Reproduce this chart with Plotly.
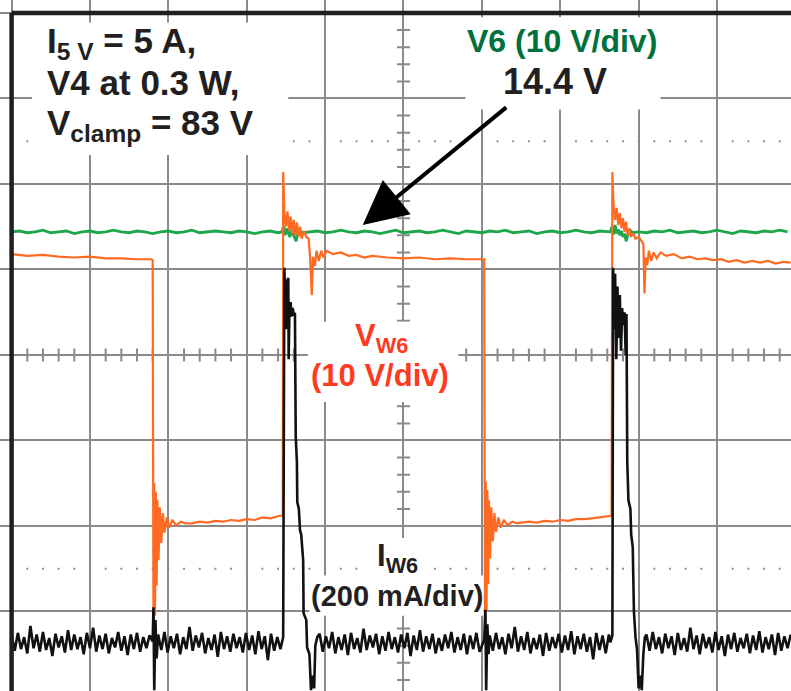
import numpy as np
import plotly.graph_objects as go

W, H = 791, 691

# ---------------- data (time in screen divisions, amplitude in divisions about the centre line) ----
DT_BASE = 0.04   # sample spacing used for the noisy I_W6 baseline stretches
DT_V6 = 0.10     # sample spacing used for the V6 trace

# V6 (green) - 14.4 V output rail
v6_a_t0 = 0.0
v6_a = [1.44, 1.45, 1.43, 1.44, 1.46, 1.43, 1.44, 1.45, 1.42, 1.44, 1.45, 1.43, 1.44, 1.46, 1.44, 1.43, 1.45, 1.44,
        1.42, 1.44, 1.45, 1.43, 1.44, 1.46, 1.43, 1.44, 1.45, 1.44, 1.43, 1.45, 1.44, 1.42, 1.44, 1.45, 1.43]
v6_b_t = [3.45, 3.47, 3.49, 3.51, 3.53, 3.55, 3.57, 3.59, 3.61, 3.63, 3.65, 3.68, 3.72]
v6_b = [1.44, 1.51, 1.40, 1.48, 1.43, 1.38, 1.46, 1.41, 1.36, 1.33, 1.42, 1.45, 1.43]
v6_c_t0 = 3.8
v6_c = [1.44, 1.45, 1.43, 1.44, 1.46, 1.44, 1.43, 1.45, 1.44, 1.42, 1.44, 1.46, 1.43, 1.44, 1.45, 1.43, 1.44, 1.46,
        1.44, 1.42, 1.45, 1.44, 1.43, 1.45, 1.44, 1.46, 1.43, 1.44, 1.45, 1.42, 1.44, 1.45, 1.43, 1.44, 1.46, 1.44,
        1.43, 1.45, 1.44]
v6_d_t = [7.64, 7.66, 7.68, 7.70, 7.72, 7.74, 7.76, 7.78, 7.80, 7.82, 7.84, 7.86, 7.89, 7.93]
v6_d = [1.44, 1.50, 1.41, 1.52, 1.42, 1.47, 1.40, 1.45, 1.38, 1.42, 1.33, 1.40, 1.46, 1.43]
v6_e_t0 = 8.0
v6_e = [1.44, 1.43, 1.45, 1.44, 1.46, 1.43, 1.44, 1.45, 1.43, 1.44, 1.46, 1.44, 1.42, 1.45, 1.44, 1.43, 1.45, 1.44,
        1.46, 1.44]

# V_W6 (orange) - winding voltage
vw6_high1_t = [0.00, 0.20, 0.40, 0.60, 0.80, 1.00, 1.20, 1.40, 1.60, 1.78]
vw6_high1 = [1.18, 1.16, 1.17, 1.15, 1.14, 1.15, 1.13, 1.13, 1.12, 1.12]
vw6_fall1_t = [1.80, 1.81, 1.82, 1.83, 1.84, 1.85, 1.86, 1.875, 1.89, 1.91, 1.93, 1.95, 1.98, 2.01, 2.05, 2.10,
               2.16, 2.22]
vw6_fall1 = [1.11, -3.22, -1.50, -3.05, -1.60, -2.70, -1.70, -2.40, -1.78, -2.20, -1.85, -2.08, -1.90, -2.02,
             -1.93, -1.99, -1.95, -1.97]
vw6_low1_t = [2.30, 2.40, 2.50, 2.60, 2.70, 2.80, 2.90, 3.00, 3.10, 3.20, 3.30, 3.42, 3.46]
vw6_low1 = [-1.97, -1.95, -1.96, -1.94, -1.95, -1.93, -1.94, -1.92, -1.93, -1.90, -1.91, -1.88, -1.88]
vw6_rise1_t = [3.465, 3.48, 3.50, 3.52, 3.54, 3.56, 3.58, 3.60, 3.62, 3.64, 3.66, 3.68, 3.70, 3.73, 3.76, 3.79,
               3.81, 3.83, 3.845, 3.87, 3.89, 3.92, 3.95, 3.98, 4.02]
vw6_rise1 = [2.14, 1.66, 1.50, 1.68, 1.45, 1.62, 1.42, 1.58, 1.40, 1.55, 1.38, 1.50, 1.36, 1.45, 1.38, 1.36,
             1.12, 0.70, 1.15, 1.04, 1.22, 1.10, 1.22, 1.14, 1.22]
vw6_high2_t = [4.10, 4.20, 4.30, 4.40, 4.50, 4.60, 4.80, 5.00, 5.20, 5.40, 5.60, 5.80, 6.02]
vw6_high2 = [1.18, 1.20, 1.16, 1.17, 1.14, 1.16, 1.14, 1.13, 1.14, 1.12, 1.13, 1.12, 1.12]
vw6_fall2_t = [6.03, 6.04, 6.05, 6.06, 6.07, 6.08, 6.09, 6.105, 6.12, 6.14, 6.16, 6.18, 6.21, 6.24, 6.28, 6.33,
               6.39, 6.45]
vw6_fall2 = [1.12, -3.20, -1.48, -3.00, -1.58, -2.68, -1.70, -2.38, -1.78, -2.18, -1.85, -2.07, -1.90, -2.02,
             -1.93, -1.99, -1.95, -1.97]
vw6_low2_t = [6.50, 6.60, 6.70, 6.80, 6.90, 7.00, 7.10, 7.20, 7.30, 7.40, 7.50, 7.62, 7.655]
vw6_low2 = [-1.96, -1.95, -1.96, -1.94, -1.95, -1.93, -1.94, -1.92, -1.92, -1.91, -1.90, -1.89, -1.88]
vw6_rise2_t = [7.665, 7.68, 7.70, 7.72, 7.74, 7.76, 7.78, 7.80, 7.82, 7.84, 7.86, 7.88, 7.90, 7.93, 7.96, 8.00,
               8.03, 8.06, 8.075, 8.09, 8.11, 8.13, 8.16, 8.19, 8.23, 8.28]
vw6_rise2 = [2.14, 1.75, 1.58, 1.72, 1.52, 1.66, 1.48, 1.60, 1.44, 1.56, 1.40, 1.48, 1.38, 1.42, 1.36, 1.38,
             1.34, 1.30, 0.72, 1.14, 1.05, 1.22, 1.10, 1.20, 1.13, 1.20]
vw6_tail_t = [8.35, 8.45, 8.55, 8.65, 8.75, 8.85, 8.95, 9.05, 9.15, 9.25, 9.35, 9.45, 9.55, 9.65, 9.75, 9.85, 9.94]
vw6_tail = [1.16, 1.18, 1.13, 1.15, 1.12, 1.13, 1.11, 1.12, 1.09, 1.11, 1.08, 1.10, 1.08, 1.10, 1.07, 1.09, 1.08]

# I_W6 (black) - winding current
iw6_base1_t0 = 0.0
iw6_base1 = [-3.28, -3.46, -3.25, -3.44, -3.30, -3.49, -3.17, -3.43, -3.27, -3.47,
             -3.24, -3.45, -3.31, -3.52, -3.26, -3.42, -3.29, -3.48, -3.22, -3.45,
             -3.27, -3.44, -3.30, -3.50, -3.25, -3.43, -3.19, -3.47, -3.28, -3.44,
             -3.26, -3.49, -3.31, -3.42, -3.24, -3.46, -3.29, -3.51, -3.27, -3.44,
             -3.25, -3.47, -3.30, -3.43, -3.28]
iw6_spike1_t = [1.80, 1.81, 1.82, 1.835, 1.85]
iw6_spike1 = [-3.35, -2.95, -3.92, -3.10, -3.55]
iw6_base2_t0 = 1.87
iw6_base2 = [-3.27, -3.45, -3.24, -3.48, -3.29, -3.43, -3.26, -3.50, -3.30, -3.44,
             -3.18, -3.46, -3.28, -3.42, -3.25, -3.49, -3.31, -3.45, -3.27, -3.53,
             -3.24, -3.44, -3.29, -3.47, -3.26, -3.43, -3.30, -3.48, -3.25, -3.45,
             -3.28, -3.50, -3.23, -3.44, -3.29, -3.57, -3.26, -3.46, -3.30, -3.44]
iw6_pulse1_t = [3.45, 3.465, 3.48, 3.49, 3.50, 3.51, 3.53, 3.535, 3.545, 3.56, 3.57, 3.585, 3.60, 3.615, 3.625,
                3.64, 3.645, 3.665, 3.68, 3.695, 3.71, 3.72, 3.725, 3.76, 3.77, 3.80, 3.82, 3.84, 3.86, 3.875, 3.90]
iw6_pulse1 = [-3.36, -3.30, 1.02, 0.40, 0.30, 0.85, 0.90, -0.05, 0.55, 0.62, 0.45, 0.55, 0.48, 0.49, -0.95,
              -1.25, -1.72, -1.80, -2.05, -2.10, -2.32, -2.40, -3.02, -3.10, -3.42, -3.50, -3.92, -3.75, -3.90,
              -3.40, -3.30]
iw6_base3_t0 = 3.93
iw6_base3 = [-3.26, -3.47, -3.29, -3.43, -3.24, -3.49, -3.30, -3.45, -3.27, -3.51,
             -3.25, -3.44, -3.31, -3.48, -3.20, -3.45, -3.28, -3.42, -3.26, -3.50,
             -3.29, -3.46, -3.24, -3.44, -3.30, -3.48, -3.27, -3.43, -3.25, -3.52,
             -3.28, -3.45, -3.22, -3.47, -3.29, -3.44, -3.26, -3.49, -3.31, -3.46,
             -3.27, -3.43, -3.24, -3.48, -3.30, -3.45, -3.26, -3.50, -3.28, -3.44,
             -3.25, -3.47]
iw6_spike2_t = [6.03, 6.045, 6.055, 6.07, 6.085]
iw6_spike2 = [-3.33, -2.98, -3.92, -3.15, -3.50]
iw6_base4_t0 = 6.10
iw6_base4 = [-3.28, -3.46, -3.25, -3.44, -3.30, -3.50, -3.26, -3.43, -3.18, -3.47,
             -3.29, -3.45, -3.24, -3.49, -3.31, -3.44, -3.27, -3.52, -3.25, -3.46,
             -3.30, -3.43, -3.26, -3.48, -3.28, -3.45, -3.23, -3.50, -3.29, -3.44,
             -3.26, -3.47, -3.30, -3.56, -3.25, -3.45, -3.28, -3.49, -3.27]
iw6_pulse2_t = [7.64, 7.665, 7.675, 7.69, 7.70, 7.715, 7.73, 7.745, 7.76, 7.775, 7.79, 7.80, 7.82, 7.835, 7.845,
                7.855, 7.87, 7.895, 7.905, 7.925, 7.94, 7.96, 7.98, 8.00, 8.02, 8.04, 8.06, 8.08]
iw6_pulse2 = [-3.36, -3.28, 1.02, 0.30, 0.95, -0.05, 0.80, 0.20, 0.70, 0.05, 0.55, 0.35, 0.50, 0.00, 0.48,
              -1.25, -1.70, -1.80, -2.10, -2.25, -3.00, -3.30, -3.45, -3.90, -3.75, -3.92, -3.50, -3.30]
iw6_base5_t0 = 8.10
iw6_base5 = [-3.27, -3.46, -3.24, -3.44, -3.30, -3.49, -3.26, -3.43, -3.29, -3.51,
             -3.25, -3.45, -3.31, -3.47, -3.19, -3.44, -3.28, -3.50, -3.26, -3.43,
             -3.30, -3.48, -3.24, -3.45, -3.29, -3.52, -3.27, -3.44, -3.25, -3.47,
             -3.31, -3.43, -3.26, -3.49, -3.28, -3.45, -3.23, -3.48, -3.30, -3.44,
             -3.27, -3.51, -3.25, -3.46, -3.29, -3.43, -3.27]


def timebase(t0, dt, values):
    return [round(t0 + i * dt, 4) for i in range(len(values))]


v6_t = (timebase(v6_a_t0, DT_V6, v6_a) + v6_b_t + timebase(v6_c_t0, DT_V6, v6_c) + v6_d_t
        + timebase(v6_e_t0, DT_V6, v6_e))
v6_y = v6_a + v6_b + v6_c + v6_d + v6_e

vw6_t = (vw6_high1_t + vw6_fall1_t + vw6_low1_t + vw6_rise1_t + vw6_high2_t + vw6_fall2_t + vw6_low2_t
         + vw6_rise2_t + vw6_tail_t)
vw6_y = vw6_high1 + vw6_fall1 + vw6_low1 + vw6_rise1 + vw6_high2 + vw6_fall2 + vw6_low2 + vw6_rise2 + vw6_tail

iw6_t = (timebase(iw6_base1_t0, DT_BASE, iw6_base1) + iw6_spike1_t + timebase(iw6_base2_t0, DT_BASE, iw6_base2)
         + iw6_pulse1_t + timebase(iw6_base3_t0, DT_BASE, iw6_base3) + iw6_spike2_t
         + timebase(iw6_base4_t0, DT_BASE, iw6_base4) + iw6_pulse2_t + timebase(iw6_base5_t0, DT_BASE, iw6_base5))
iw6_y = iw6_base1 + iw6_spike1 + iw6_base2 + iw6_pulse1 + iw6_base3 + iw6_spike2 + iw6_base4 + iw6_pulse2 + iw6_base5

# ---------------- styling ----------------
GRID = "#8a8a8a"
FRAME = "#231f20"
GREEN_TRACE = "#1ea64b"
ORANGE_TRACE = "#ff6a22"
BLACK_TRACE = "#111111"
GREEN_TEXT = "#00703c"
RED_TEXT = "#ff3b1f"
FONT = "Liberation Sans, Arial, Helvetica, sans-serif"

X_RANGE = [-0.148, 9.944]
Y_RANGE = [-3.930, 4.152]

fig = go.Figure()
fig.add_trace(go.Scatter(x=v6_t, y=v6_y, mode="lines", line=dict(color=GREEN_TRACE, width=2.8), hoverinfo="skip"))
fig.add_trace(go.Scatter(x=vw6_t, y=vw6_y, mode="lines", line=dict(color=ORANGE_TRACE, width=2.2), hoverinfo="skip"))
fig.add_trace(go.Scatter(x=iw6_t, y=iw6_y, mode="lines", line=dict(color=BLACK_TRACE, width=2.6), hoverinfo="skip"))

# graticule: minor ticks on the centre lines and dotted 2.5-div lines
tick_path = []
for k in range(1, 50):
    if k % 5:
        x = k * 0.2
        tick_path.append(f"M{x:.3f},-0.076L{x:.3f},0.076")
for k in range(-19, 21):
    if k % 5:
        y = k * 0.2
        tick_path.append(f"M4.917,{y:.3f}L5.083,{y:.3f}")
dot_path = []
for yy in (2.5, -2.5):
    for k in range(1, 50):
        x = k * 0.2
        dot_path.append(f"M{x - 0.012:.3f},{yy}L{x + 0.012:.3f},{yy}")

shapes = [
    dict(type="path", path="".join(tick_path), xref="x", yref="y", line=dict(color=GRID, width=2), layer="below"),
    dict(type="path", path="".join(dot_path), xref="x", yref="y", line=dict(color=GRID, width=2.2), layer="below"),
]
# white label backgrounds
for (x0, x1, y0, y1) in [(0.26, 3.53, 2.34, 3.89), (5.79, 8.28, 2.87, 3.95), (3.78, 5.70, -0.55, 0.39),
                         (4.57, 5.31, -2.58, -2.14), (3.80, 6.02, -3.05, -2.58)]:
    shapes.append(dict(type="rect", xref="x", yref="y", x0=x0, x1=x1, y0=y0, y1=y1,
                       fillcolor="white", line=dict(width=0), layer="between"))
# frame (left and top edges of the screen)
shapes.append(dict(type="line", xref="x", yref="y", x0=0, x1=0, y0=Y_RANGE[0], y1=4,
                   line=dict(color=FRAME, width=4.5), layer="above"))
shapes.append(dict(type="line", xref="x", yref="y", x0=0, x1=X_RANGE[1], y0=4, y1=4,
                   line=dict(color=FRAME, width=4.5), layer="above"))


def P(px, py):
    return px / W, 1 - py / H


def label(text, px, py_top, size, color, anchor="center"):
    x, y = P(px, py_top)
    return dict(text=text, x=x, y=y, xref="paper", yref="paper", xanchor=anchor, yanchor="top",
                showarrow=False, font=dict(family=FONT, size=size, color=color), borderpad=0)


annotations = [
    label("<b>I<sub>5 V</sub> = 5 A,</b>", 46, 20, 35, FRAME, "left"),
    label("<b>V4 at 0.3 W,</b>", 46, 62, 35, FRAME, "left"),
    label("<b>V<sub>clamp</sub> = 83 V</b>", 46, 102, 35, FRAME, "left"),
    label("<b>V6 (10 V/div)</b>", 562, 22, 32, GREEN_TEXT),
    label("<b>14.4 V</b>", 555, 60, 36, FRAME),
    label("<b>V<sub>W6</sub></b>", 381, 317, 31, RED_TEXT),
    label("<b>(10 V/div)</b>", 380, 357, 31, RED_TEXT),
    label("<b>I<sub>W6</sub></b>", 397, 537, 31, FRAME),
    label("<b>(200 mA/div)</b>", 397, 579, 29, FRAME),
    dict(x=4.48, y=1.52, ax=6.33, ay=2.91, xref="x", yref="y", axref="x", ayref="y", text="",
         showarrow=True, arrowhead=2, arrowsize=2.2, arrowwidth=4, arrowcolor="black", standoff=0),
]

axis_common = dict(showgrid=True, gridcolor=GRID, gridwidth=2, zeroline=False, showticklabels=False,
                   ticks="", showline=False, dtick=1, tick0=0, fixedrange=True)
fig.update_layout(
    width=W, height=H, autosize=False,
    margin=dict(l=0, r=0, t=0, b=0, pad=0),
    paper_bgcolor="white", plot_bgcolor="white", showlegend=False,
    xaxis=dict(range=X_RANGE, **axis_common),
    yaxis=dict(range=Y_RANGE, **axis_common),
    shapes=shapes, annotations=annotations,
)

fig.write_html("out.html")
